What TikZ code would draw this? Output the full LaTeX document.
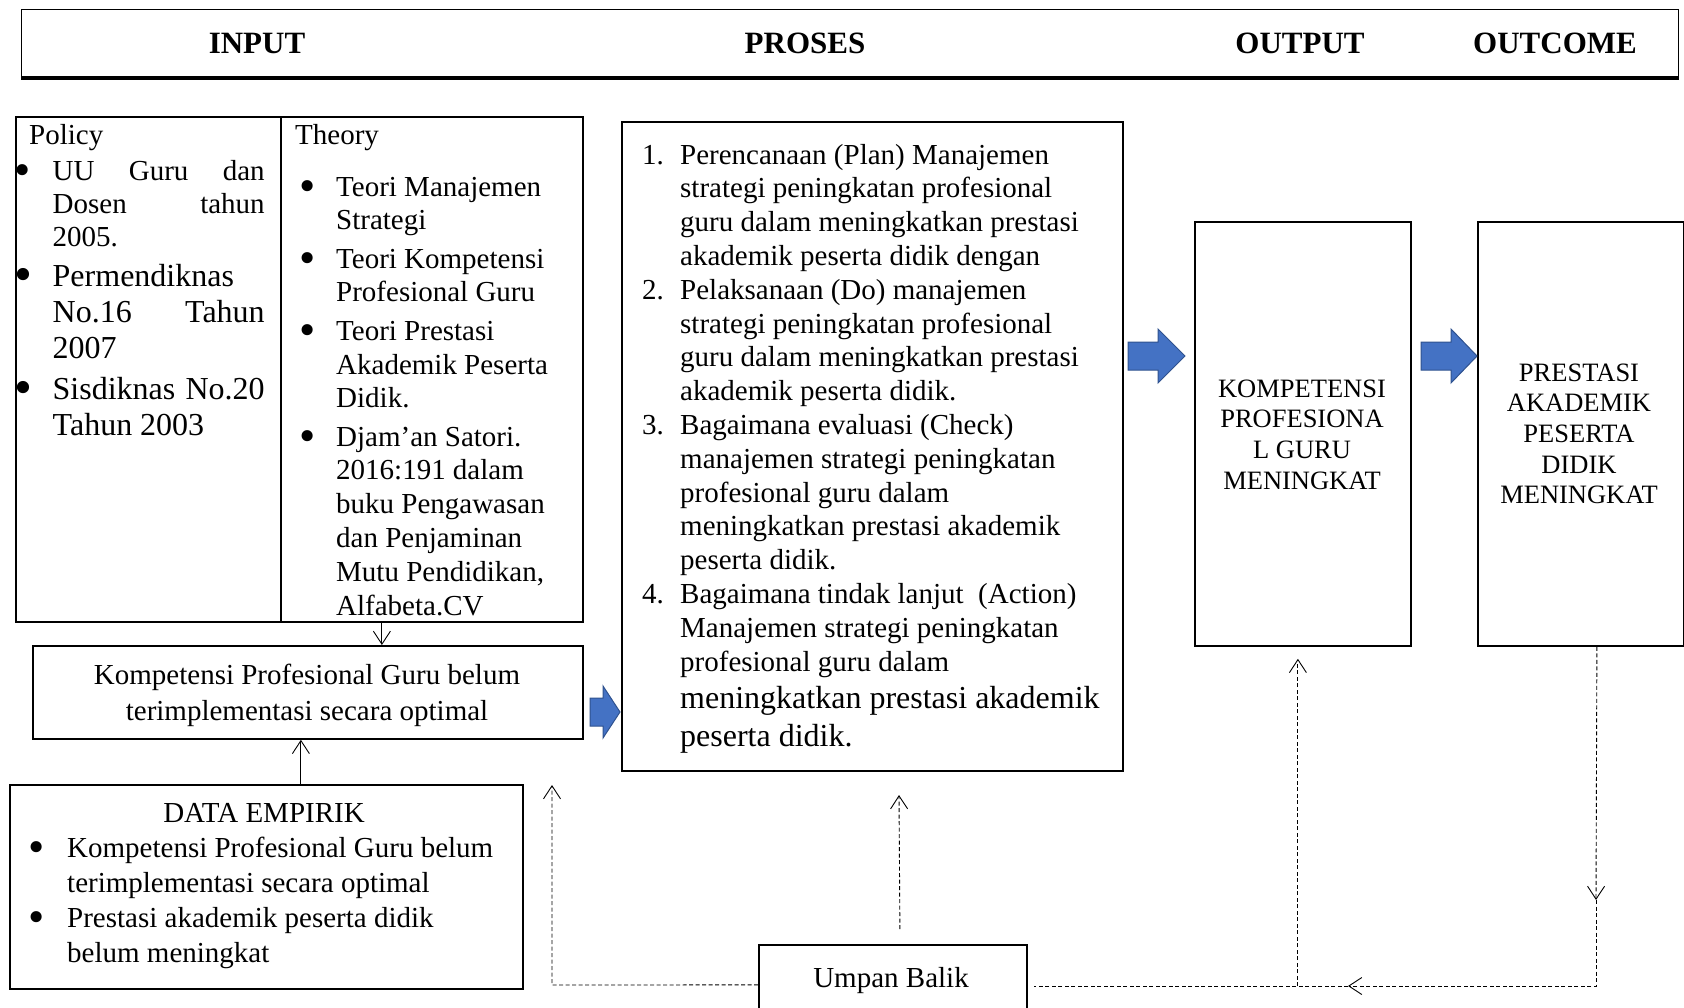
\documentclass[tikz,border=0pt]{standalone}
\usepackage{fontspec}
\usepackage{graphicx}
\setmainfont{Liberation Serif}
\usetikzlibrary{arrows.meta}

\definecolor{biru}{HTML}{4472C4}
\definecolor{birutua}{HTML}{2F528F}

% one list entry: label in a box of width #1, hanging text
\newcommand{\butir}[2]{\par\hangindent=#1\hangafter=1\noindent\makebox[#1][l]{#2}}
\newcommand{\titik}{\hspace*{-7pt}\raisebox{-5pt}{\scalebox{1.6}{\textbullet}}}

\tikzset{
  kotak/.style={draw, line width=1.8pt, inner sep=0pt, anchor=north west},
  isi/.style={inner sep=0pt, font=\fontsize{29}{33.8}\selectfont},
  judul/.style={inner sep=0pt, anchor=base, font=\fontsize{31}{36}\selectfont\bfseries},
  kapital/.style={inner sep=0pt, anchor=base, font=\fontsize{26.5}{30.7}\selectfont},
  ujung/.style={-{Straight Barb[length=13pt,width=17pt]}},
  garis/.style={line width=0.9pt},
  balik/.style={line width=0.9pt, dash pattern=on 4pt off 2.5pt},
  blokbiru/.style={fill=biru, draw=birutua, line width=1pt},
}

\begin{document}
\begin{tikzpicture}[x=1pt,y=-1pt]
\clip (0,0) rectangle (1684,1007);

% header
\node[kotak, line width=1.2pt, minimum width=1657pt, minimum height=68pt] (kepala) at (21,9) {};
\draw[line width=3.5pt] (kepala.south west) -- (kepala.south east);
\node[judul] (tinput) at (257,53) {INPUT};
\node[judul] (tproses) at (805,53) {PROSES};
\node[judul] (toutput) at (1300,53) {OUTPUT};
\node[judul] (toutcome) at (1555,53) {OUTCOME};

% input
\node[kotak, minimum width=265pt, minimum height=505pt] (policy) at (15,116) {};
\node[kotak, minimum width=302pt, minimum height=505pt] (theory) at (280,116) {};
\node[isi, anchor=base west] (tpolicy) at (29,144) {Policy};
\node[isi, anchor=base west] (ttheory) at (295,144) {Theory};

\node[isi, anchor=base west] (daftarpolicy) at (21.5,180) {\parbox[t]{243pt}{\parskip=4.5pt
  {\fontsize{29}{33}\selectfont
  \butir{31pt}{\titik}UU\hfill Guru\hfill dan\\Dosen\hfill tahun\\2005.\par}
  {\fontsize{32}{36}\selectfont
  \butir{31pt}{\titik}Permendiknas\\No.16\hfill Tahun\\2007\par
  \butir{31pt}{\titik}Sisdiknas\hfill No.20\\Tahun 2003\par}}};

\node[isi, anchor=base west] (daftartheory) at (306,196) {\parbox[t]{272pt}{\parskip=4.5pt
  \fontsize{29}{33.8}\selectfont
  \butir{30pt}{\titik}Teori Manajemen\\Strategi\par
  \butir{30pt}{\titik}Teori Kompetensi\\Profesional Guru\par
  \butir{30pt}{\titik}Teori Prestasi\\Akademik Peserta\\Didik.\par
  \butir{30pt}{\titik}Djam’an Satori.\\2016:191 dalam\\buku Pengawasan\\dan Penjaminan\\Mutu Pendidikan,\\Alfabeta.CV\par}};

\node[kotak, minimum width=550pt, minimum height=93pt] (komp) at (32,645) {};
\node[isi, anchor=base] (tkomp) at (307,684) {\parbox[t]{520pt}{\centering\fontsize{29}{36}\selectfont
  Kompetensi Profesional Guru belum\\terimplementasi secara optimal}};

\node[kotak, minimum width=513pt, minimum height=204pt] (data) at (9,784) {};
\node[isi, anchor=base] (tdata) at (264,822) {DATA EMPIRIK};
\node[isi, anchor=base west] (daftardata) at (35,857) {\parbox[t]{470pt}{\fontsize{29}{35}\selectfont
  \butir{32pt}{\titik}Kompetensi Profesional Guru belum\\terimplementasi secara optimal\par
  \butir{32pt}{\titik}Prestasi akademik peserta didik\\belum meningkat\par}};

\draw[garis, ujung] ([xshift=-50pt]theory.south) -- ([xshift=-50pt]theory.south |- komp.north);
\draw[garis, ujung] ([xshift=-7pt]komp.south |- data.north) -- ([xshift=-7pt]komp.south);

% proses
\node[kotak, minimum width=501pt, minimum height=649pt] (proses) at (621,121) {};
\node[isi, anchor=base west] (daftarproses) at (642,164) {\parbox[t]{470pt}{\fontsize{29}{33.8}\selectfont
  \butir{38pt}{1.}Perencanaan (Plan) Manajemen\\strategi peningkatan profesional\\guru dalam meningkatkan prestasi\\akademik peserta didik dengan\par
  \butir{38pt}{2.}Pelaksanaan (Do) manajemen\\strategi peningkatan profesional\\guru dalam meningkatkan prestasi\\akademik peserta didik.\par
  \butir{38pt}{3.}Bagaimana evaluasi (Check)\\manajemen strategi peningkatan\\profesional guru dalam\\meningkatkan prestasi akademik\\peserta didik.\par
  \butir{38pt}{4.}Bagaimana tindak lanjut\ \ (Action)\\Manajemen strategi peningkatan\\profesional guru dalam\par
  {\fontsize{32}{37.5}\selectfont\hangindent=38pt\hangafter=0\noindent meningkatkan prestasi akademik\\peserta didik.\par}}};

% output dan outcome
\node[kotak, minimum width=216pt, minimum height=424pt] (output) at (1194,221) {};
\node[kapital] (toutputisi) at (1302,397) {\parbox[t]{200pt}{\centering
  KOMPETENSI\\PROFESIONA\\L GURU\\MENINGKAT}};
\node[kotak, minimum width=206pt, minimum height=424pt] (outcome) at (1477,221) {};
\node[kapital] (toutcomeisi) at (1579,381) {\parbox[t]{200pt}{\centering
  PRESTASI\\AKADEMIK\\PESERTA\\DIDIK\\MENINGKAT}};

% panah biru
\filldraw[blokbiru] (590,698) -- (603,698) -- (603,686) -- (620,712) -- (603,738) -- (603,726) -- (590,726) -- cycle;
\filldraw[blokbiru] (1128,342) -- (1158,342) -- (1158,329) -- (1185,356) -- (1158,383) -- (1158,370) -- (1128,370) -- cycle;
\filldraw[blokbiru] (1421,342) -- (1451,342) -- (1451,329) -- (1477,356) -- (1451,383) -- (1451,370) -- (1421,370) -- cycle;

% umpan balik
\node[kotak, minimum width=268pt, minimum height=80pt] (umpan) at (758,944) {};
\node[isi, anchor=base] (tumpan) at (891,987) {Umpan Balik};

\coordinate (kiri) at (552,985);
\coordinate (kiriatas) at (552,785);
\coordinate (tengahatas) at (899,795);
\coordinate (turun) at (1596,900);
\coordinate (sudut) at (1596,986);
\coordinate (kekiri) at (1348,986);
\draw[balik, ujung] (umpan.west) -- (kiri) -- (kiriatas);
\draw[balik, ujung] ([shift={(7pt,15pt)}]umpan.north) -- (tengahatas);
\draw[balik, ujung] ([xshift=16pt]outcome.south) -- (turun);
\draw[balik, ujung] (turun) -- (sudut) -- (kekiri);
\draw[balik] (kekiri) -- ([xshift=6pt]umpan.east |- kekiri);
\draw[balik, ujung] ([xshift=-5pt]output.south |- sudut) -- ([shift={(-5pt,-12pt)}]output.south);
\end{tikzpicture}
\end{document}
